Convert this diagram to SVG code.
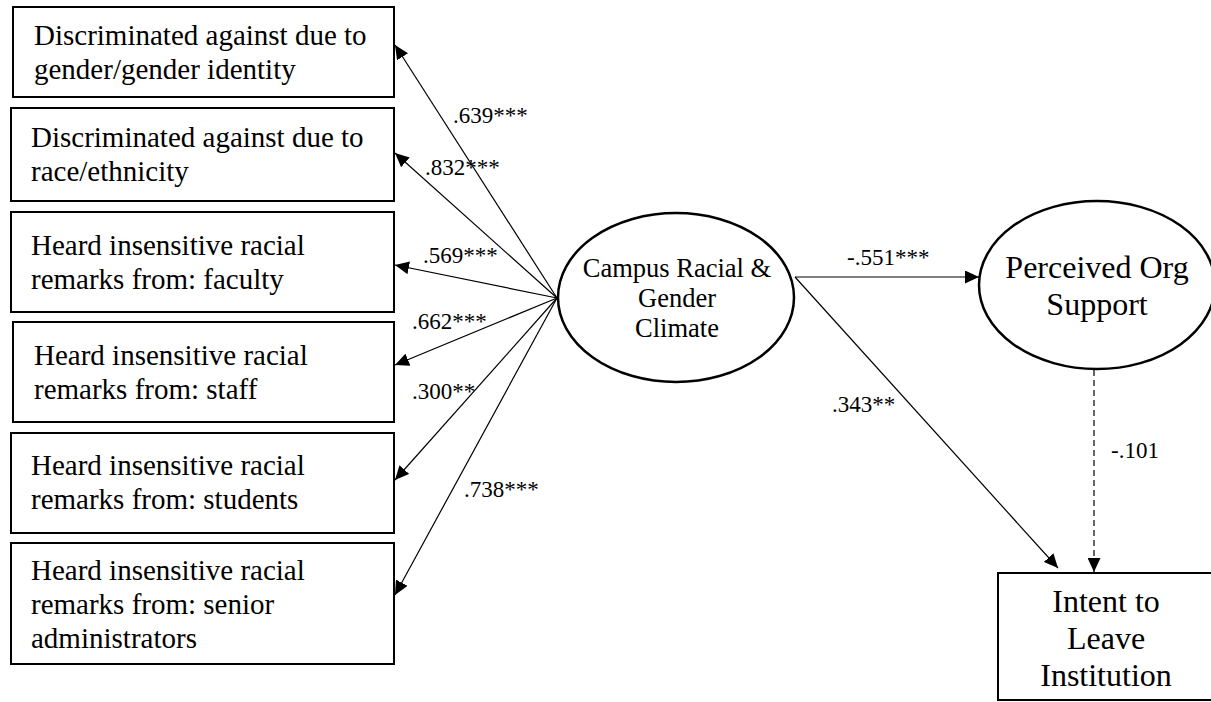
<svg xmlns="http://www.w3.org/2000/svg" width="1211" height="702" viewBox="0 0 1211 702">
  <style>
    .box { fill: #fff; stroke: #000; stroke-width: 2; }
    .latent { fill: #fff; stroke: #000; stroke-width: 2.5; }
    .obs { font-size: 29px; }
    .lat1 { font-size: 26.5px; text-anchor: middle; }
    .lat2 { font-size: 32px; text-anchor: middle; }
    .lbl { font-size: 23px; }
    .edge { stroke: #000; stroke-width: 1.2; fill: none; marker-end: url(#arrow); }
    .dash { stroke-dasharray: 6 4; }
  </style>
  <defs>
    <marker id="arrow" markerUnits="userSpaceOnUse" markerWidth="14" markerHeight="13" refX="14" refY="6.5" orient="auto">
      <path d="M0,0 L14,6.5 L0,13 Z" fill="#000"/>
    </marker>
  </defs>
  <rect width="1211" height="702" fill="#fff"/>

  <g font-family="'Liberation Serif', 'Times New Roman', serif" fill="#000">
    <!-- indicator variables -->
    <g id="ind-gender">
      <rect class="box" x="13" y="7" width="381" height="90"/>
      <text class="obs" x="34" y="45">Discriminated against due to</text>
      <text class="obs" x="34" y="79">gender/gender identity</text>
    </g>
    <g id="ind-race">
      <rect class="box" x="11" y="108" width="383" height="93"/>
      <text class="obs" x="31" y="147">Discriminated against due to</text>
      <text class="obs" x="31" y="181">race/ethnicity</text>
    </g>
    <g id="ind-faculty">
      <rect class="box" x="11" y="212" width="383" height="100"/>
      <text class="obs" x="31" y="255">Heard insensitive racial</text>
      <text class="obs" x="31" y="289">remarks from: faculty</text>
    </g>
    <g id="ind-staff">
      <rect class="box" x="13" y="322" width="381" height="100"/>
      <text class="obs" x="34" y="365">Heard insensitive racial</text>
      <text class="obs" x="34" y="399">remarks from: staff</text>
    </g>
    <g id="ind-students">
      <rect class="box" x="11" y="433" width="383" height="100"/>
      <text class="obs" x="31" y="475">Heard insensitive racial</text>
      <text class="obs" x="31" y="509">remarks from: students</text>
    </g>
    <g id="ind-senior">
      <rect class="box" x="11" y="543" width="383" height="121"/>
      <text class="obs" x="31" y="580">Heard insensitive racial</text>
      <text class="obs" x="31" y="614">remarks from: senior</text>
      <text class="obs" x="31" y="648">administrators</text>
    </g>

    <!-- latent constructs -->
    <g id="climate">
      <ellipse class="latent" cx="676" cy="297.5" rx="118" ry="84.5"/>
      <text class="lat1" x="677" y="277">Campus Racial &amp;</text>
      <text class="lat1" x="677" y="307">Gender</text>
      <text class="lat1" x="677" y="337">Climate</text>
    </g>
    <g id="pos">
      <ellipse class="latent" cx="1097" cy="285" rx="118" ry="84"/>
      <text class="lat2" x="1097" y="278">Perceived Org</text>
      <text class="lat2" x="1097" y="315">Support</text>
    </g>

    <!-- outcome -->
    <g id="intent">
      <rect class="box" x="998" y="573" width="220" height="127"/>
      <text class="lat2" x="1106" y="612">Intent to</text>
      <text class="lat2" x="1106" y="649">Leave</text>
      <text class="lat2" x="1106" y="686">Institution</text>
    </g>

    <!-- paths -->
    <g id="connectors">
      <line class="edge" x1="557" y1="298" x2="395" y2="45"/>
      <line class="edge" x1="557" y1="298" x2="395" y2="153"/>
      <line class="edge" x1="557" y1="298" x2="395" y2="265"/>
      <line class="edge" x1="557" y1="298" x2="395" y2="365"/>
      <line class="edge" x1="557" y1="298" x2="395" y2="480"/>
      <line class="edge" x1="557" y1="298" x2="395" y2="595"/>
      <line class="edge" x1="795" y1="277" x2="979" y2="277"/>
      <line class="edge" x1="795" y1="277" x2="1058" y2="568"/>
      <line class="edge dash" x1="1094" y1="370" x2="1094" y2="572"/>
    </g>

    <!-- path coefficients -->
    <g id="coefficients">
      <text class="lbl" x="453" y="123">.639***</text>
      <text class="lbl" x="425" y="175">.832***</text>
      <text class="lbl" x="423" y="263">.569***</text>
      <text class="lbl" x="412" y="329">.662***</text>
      <text class="lbl" x="412" y="399">.300**</text>
      <text class="lbl" x="464" y="497">.738***</text>
      <text class="lbl" x="847" y="265">-.551***</text>
      <text class="lbl" x="832" y="412">.343**</text>
      <text class="lbl" x="1111" y="458">-.101</text>
    </g>
  </g>
</svg>
